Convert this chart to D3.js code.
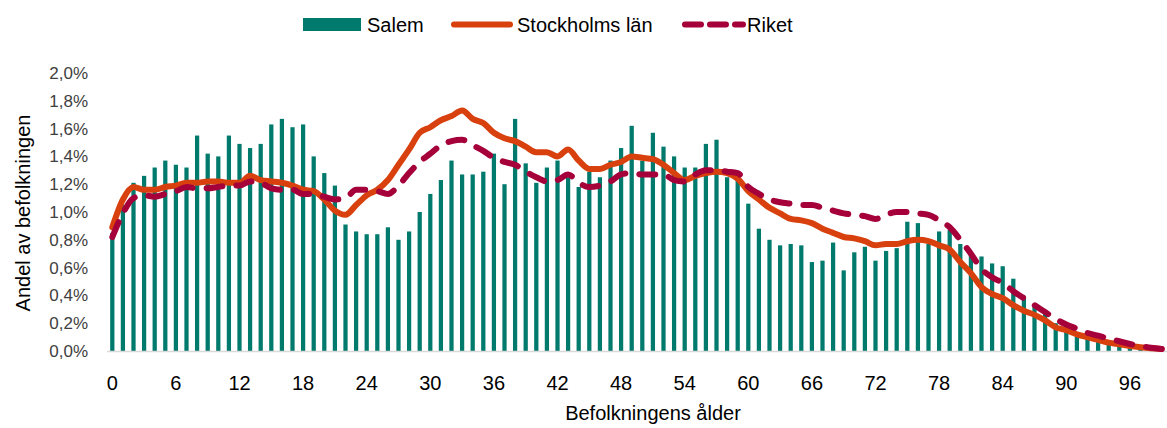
<!DOCTYPE html>
<html>
<head>
<meta charset="utf-8">
<script src="https://cdn.jsdelivr.net/npm/d3@7"></script>
<style>
  body { margin: 0; background: #fff; }
  svg { display: block; font-family: "Liberation Sans", Arial, sans-serif; }
</style>
</head>
<body>
<div id="chart"></div>
<script>
"use strict";

var width = 1167;
var height = 428;

// Ages 0-99
var ages = d3.range(0, 100);
var tickAges = [0, 6, 12, 18, 24, 30, 36, 42, 48, 54, 60, 66, 72, 78, 84, 90, 96];
var yTicks = [0, 0.2, 0.4, 0.6, 0.8, 1.0, 1.2, 1.4, 1.6, 1.8, 2.0];

// Share of population (%), per age
var salem = [
    0.85, 1.05, 1.21, 1.26, 1.32, 1.37, 1.34, 1.32, 1.55, 1.42,
    1.40, 1.55, 1.49, 1.46, 1.49, 1.63, 1.67, 1.61, 1.63, 1.40,
    1.28, 1.19, 0.91, 0.86, 0.84, 0.84, 0.89, 0.80, 0.86, 1.00,
    1.13, 1.23, 1.37, 1.27, 1.27, 1.29, 1.42, 1.20, 1.67, 1.35,
    1.21, 1.32, 1.37, 1.25, 1.18, 1.29, 1.25, 1.37, 1.46, 1.62,
    1.37, 1.57, 1.47, 1.40, 1.32, 1.32, 1.49, 1.52, 1.25, 1.27,
    1.06, 0.88, 0.80, 0.76, 0.77, 0.76, 0.64, 0.65, 0.78, 0.58,
    0.71, 0.75, 0.65, 0.72, 0.74, 0.93, 0.92, 0.77, 0.86, 0.87,
    0.77, 0.70, 0.68, 0.63, 0.61, 0.52, 0.39, 0.33, 0.27, 0.20,
    0.15, 0.12, 0.09, 0.07, 0.05, 0.03, 0.02, 0.01, 0.005, 0.003
];

var stockholm = [
    0.89, 1.09, 1.18, 1.16, 1.16, 1.18, 1.19, 1.21, 1.21, 1.22,
    1.22, 1.21, 1.21, 1.26, 1.23, 1.22, 1.21, 1.19, 1.16, 1.15,
    1.09, 1.01, 0.98, 1.05, 1.12, 1.16, 1.23, 1.34, 1.45, 1.57,
    1.61, 1.66, 1.69, 1.73, 1.67, 1.64, 1.57, 1.53, 1.51, 1.47,
    1.43, 1.43, 1.40, 1.45, 1.37, 1.31, 1.31, 1.34, 1.36, 1.40,
    1.39, 1.38, 1.34, 1.28, 1.23, 1.26, 1.28, 1.29, 1.28, 1.24,
    1.15, 1.09, 1.03, 0.99, 0.95, 0.94, 0.92, 0.88, 0.85, 0.82,
    0.81, 0.79, 0.76, 0.77, 0.77, 0.79, 0.80, 0.79, 0.76, 0.73,
    0.64, 0.56, 0.46, 0.41, 0.38, 0.33, 0.29, 0.26, 0.22, 0.17,
    0.15, 0.12, 0.10, 0.08, 0.06, 0.048, 0.036, 0.027, 0.02, 0.015
];

var riket = [
    0.82, 0.99, 1.10, 1.12, 1.11, 1.13, 1.15, 1.18, 1.17, 1.17,
    1.18, 1.19, 1.19, 1.22, 1.21, 1.17, 1.16, 1.16, 1.13, 1.13,
    1.11, 1.09, 1.10, 1.16, 1.16, 1.15, 1.13, 1.19, 1.28, 1.36,
    1.42, 1.48, 1.51, 1.52, 1.48, 1.44, 1.39, 1.36, 1.34, 1.29,
    1.25, 1.22, 1.23, 1.27, 1.21, 1.18, 1.19, 1.22, 1.27, 1.28,
    1.27, 1.27, 1.27, 1.23, 1.22, 1.27, 1.30, 1.30, 1.29, 1.28,
    1.18, 1.13, 1.09, 1.07, 1.06, 1.05, 1.05, 1.03, 1.01, 0.99,
    0.98, 0.97, 0.95, 0.98, 1.00, 1.00, 0.99, 0.98, 0.94, 0.89,
    0.80, 0.70, 0.59, 0.53, 0.49, 0.43, 0.38, 0.33, 0.28, 0.23,
    0.19, 0.16, 0.13, 0.11, 0.09, 0.07, 0.05, 0.036, 0.024, 0.015
];

var colors = {salem: "#007A6C", stockholm: "#D8400E", riket: "#A6003A"};

var margin = {top: 72, right: 0, bottom: 76, left: 107};

var svg = d3.select("#chart").append("svg")
    .attr("width", width)
    .attr("height", height);

var x = d3.scaleBand()
    .domain(ages)
    .range([margin.left, width - margin.right])
    .paddingInner(0.6)
    .paddingOuter(0.3);

var y = d3.scaleLinear()
    .domain([0, 2.0])
    .range([height - margin.bottom - 1, margin.top + 1]);

// Bars
svg.append("g")
    .selectAll("rect")
    .data(ages)
    .enter().append("rect")
    .attr("x", function(d) { return x(d); })
    .attr("y", function(d) { return y(salem[d]); })
    .attr("width", x.bandwidth())
    .attr("height", function(d) { return y(0) - y(salem[d]); })
    .attr("fill", colors.salem);

// Baseline
svg.append("line")
    .attr("x1", margin.left)
    .attr("x2", width)
    .attr("y1", y(0) + 0.5)
    .attr("y2", y(0) + 0.5)
    .attr("stroke", "#d9d9d9")
    .attr("stroke-width", 1.5);

var cx = function(i) { return x(i) + x.bandwidth() / 2; };

var line = d3.line()
    .x(function(d, i) { return cx(i); })
    .y(function(d) { return y(d); })
    .curve(d3.curveMonotoneX);

svg.append("path")
    .datum(stockholm)
    .attr("d", line)
    .attr("fill", "none")
    .attr("stroke", colors.stockholm)
    .attr("stroke-width", 6)
    .attr("stroke-linejoin", "round")
    .attr("stroke-linecap", "round");

svg.append("path")
    .datum(riket)
    .attr("d", line)
    .attr("fill", "none")
    .attr("stroke", colors.riket)
    .attr("stroke-width", 6)
    .attr("stroke-dasharray", "16 14")
    .attr("stroke-linecap", "round");

// Y axis labels
svg.append("g")
    .selectAll("text")
    .data(yTicks)
    .enter().append("text")
    .attr("x", 88)
    .attr("y", function(d) { return y(d); })
    .attr("dy", "0.35em")
    .attr("text-anchor", "end")
    .attr("fill", "#404040")
    .style("font-size", "17px")
    .text(function(d) { return d3.format(".1f")(d).replace(".", ",") + "%"; });

// X axis labels
svg.append("g")
    .selectAll("text")
    .data(tickAges)
    .enter().append("text")
    .attr("x", function(d) { return cx(d); })
    .attr("y", 390)
    .attr("text-anchor", "middle")
    .attr("fill", "#000")
    .style("font-size", "20px")
    .text(function(d) { return d; });

// Axis titles
svg.append("text")
    .attr("x", 653)
    .attr("y", 420)
    .attr("text-anchor", "middle")
    .style("font-size", "20px")
    .text("Befolkningens ålder");

svg.append("text")
    .attr("transform", "translate(30,213) rotate(-90)")
    .attr("text-anchor", "middle")
    .style("font-size", "20px")
    .text("Andel av befolkningen");

// Legend
var legend = svg.append("g").style("font-size", "20px");

legend.append("rect")
    .attr("x", 303).attr("y", 18)
    .attr("width", 58).attr("height", 13)
    .attr("fill", colors.salem);
legend.append("text").attr("x", 367).attr("y", 32).text("Salem");

legend.append("line")
    .attr("x1", 454).attr("x2", 510)
    .attr("y1", 24.5).attr("y2", 24.5)
    .attr("stroke", colors.stockholm)
    .attr("stroke-width", 6)
    .attr("stroke-linecap", "round");
legend.append("text").attr("x", 517).attr("y", 32).text("Stockholms län");

legend.append("line")
    .attr("x1", 685).attr("x2", 743)
    .attr("y1", 24.5).attr("y2", 24.5)
    .attr("stroke", colors.riket)
    .attr("stroke-width", 6)
    .attr("stroke-dasharray", "16 9")
    .attr("stroke-linecap", "round");
legend.append("text").attr("x", 747).attr("y", 32).text("Riket");
</script>
</body>
</html>
